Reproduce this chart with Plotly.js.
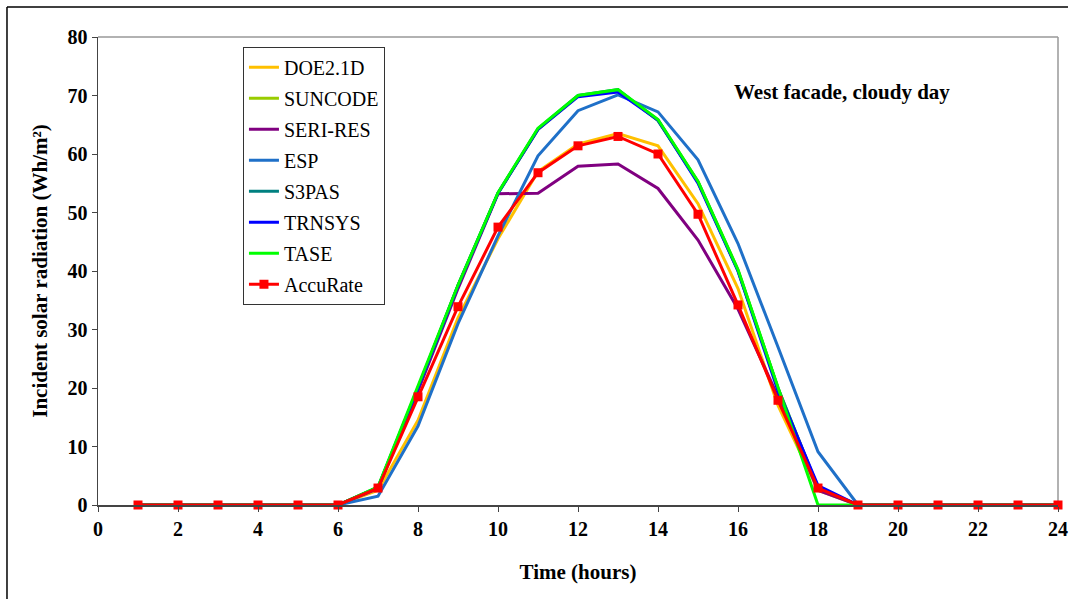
<!DOCTYPE html>
<html>
<head>
<meta charset="utf-8">
<script src="https://cdn.plot.ly/plotly-3.0.1.min.js"></script>
<style>html,body{margin:0;padding:0;background:#fff;}#chart{width:1073px;height:599px;}</style>
</head>
<body>
<div id="chart"></div>
<script>
const hours = [1,2,3,4,5,6,7,8,9,10,11,12,13,14,15,16,17,18,19,20,21,22,23,24];
const seriesNames = ["DOE2.1D","SUNCODE","SERI-RES","ESP","S3PAS","TRNSYS","TASE","AccuRate"];
const doe2   = [0,0,0,0,0,0,2.5,14.5,32,45.5,57,61.7,63.5,61.4,51.5,37,17,2.5,0,0,0,0,0,0];
const suncode= [0,0,0,0,0,0,3,20,37.5,53.3,64.2,69.9,70.9,65.8,55.3,40.2,20,2.8,0,0,0,0,0,0];
const seriRes= [0,0,0,0,0,0,2.8,19.5,37,53.2,53.3,57.9,58.3,54.1,45.3,33.5,18.5,2.5,0,0,0,0,0,0];
const esp    = [0,0,0,0,0,0,1.5,13.5,31,46,59.7,67.4,70.1,67.2,59,44.7,27,9.1,0,0,0,0,0,0];
const s3pas  = [0,0,0,0,0,0,3,20,37.5,53.3,64.3,70,71,65.7,55.2,40,20,3,0,0,0,0,0,0];
const trnsys = [0,0,0,0,0,0,3,20,37.5,53.3,64.2,69.8,70.6,65.8,55,40,19.5,3.3,0,0,0,0,0,0];
const tase   = [0,0,0,0,0,0,3.1,20.2,37.6,53.4,64.4,70,71,65.9,55.3,40.2,20.2,0,0,0,0,0,0,0];
const accurate=[0,0,0,0,0,0,2.9,18.5,33.9,47.5,56.8,61.4,63,60,49.7,34.2,17.9,2.9,0,0,0,0,0,0];
const xTicks = [0,2,4,6,8,10,12,14,16,18,20,22,24];
const yTicks = [0,10,20,30,40,50,60,70,80];

const values = [doe2,suncode,seriRes,esp,s3pas,trnsys,tase,accurate];
const colors = ["#FFC000","#99CC00","#800080","#1F70C8","#008080","#0000FF","#00FF00","#FF0000"];
const serif = "Liberation Serif, Times New Roman, serif";

const traces = seriesNames.map((n,i)=>({
  x: hours, y: values[i], name: n, type: "scatter",
  mode: n === "AccuRate" ? "lines+markers" : "lines",
  line: {color: colors[i], width: 3},
  marker: {symbol: "square", size: 9, color: colors[i]},
  legendgroup: "g"+i,
  cliponaxis: false
}));

const layout = {
  width: 1073, height: 599,
  margin: {l: 98, r: 15, t: 37, b: 94},
  paper_bgcolor: "#fff", plot_bgcolor: "#fff",
  showlegend: true,
  legend: {
    x: 0.151, y: 0.979, xanchor: "left", yanchor: "top",
    bgcolor: "#fff", bordercolor: "#333", borderwidth: 1,
    font: {family: serif, size: 20, color: "#000"},
    traceorder: "grouped", tracegroupgap: 2,
    itemwidth: 30
  },
  xaxis: {
    range: [0, 24], tickvals: xTicks, ticktext: xTicks.map(String),
    showgrid: false, zeroline: false,
    showline: true, linecolor: "#444", linewidth: 1.5,
    ticks: "outside", ticklen: 5, tickcolor: "#444",
    tickfont: {family: serif, size: 20, color: "#000", weight: "bold"},
    title: {text: "<b>Time (hours)</b>", font: {family: serif, size: 21, color: "#000"}, standoff: 26}
  },
  yaxis: {
    range: [0, 80], tickvals: yTicks, ticktext: yTicks.map(String),
    showgrid: false, zeroline: false,
    showline: true, linecolor: "#444", linewidth: 1.5,
    ticks: "outside", ticklen: 5, tickcolor: "#444",
    tickfont: {family: serif, size: 20, color: "#000", weight: "bold"},
    title: {text: "<b>Incident solar radiation (Wh/m²)</b>", font: {family: serif, size: 21, color: "#000"}, standoff: 14}
  },
  annotations: [{
    xref: "paper", yref: "paper", x: 0.775, y: 0.882, xanchor: "center", yanchor: "middle",
    text: "<b>West facade, cloudy day</b>", showarrow: false,
    font: {family: serif, size: 21, color: "#000"}
  }],
  shapes: [
    {type: "line", xref: "paper", yref: "paper", x0: 0, x1: 1, y0: 1, y1: 1, line: {color: "#999", width: 1.5}, layer: "below"},
    {type: "line", xref: "paper", yref: "paper", x0: 1, x1: 1, y0: 0, y1: 1, line: {color: "#999", width: 1.5}, layer: "below"},
    {type: "line", xref: "paper", yref: "paper", x0: -0.0948, x1: 1.0104, y0: 1.0641, y1: 1.0641, line: {color: "#000", width: 1.5}},
    {type: "line", xref: "paper", yref: "paper", x0: -0.0948, x1: -0.0948, y0: -0.21, y1: 1.0641, line: {color: "#000", width: 1.5}}
  ]
};

Plotly.newPlot("chart", traces, layout, {displayModeBar: false, staticPlot: true});
</script>
</body>
</html>
